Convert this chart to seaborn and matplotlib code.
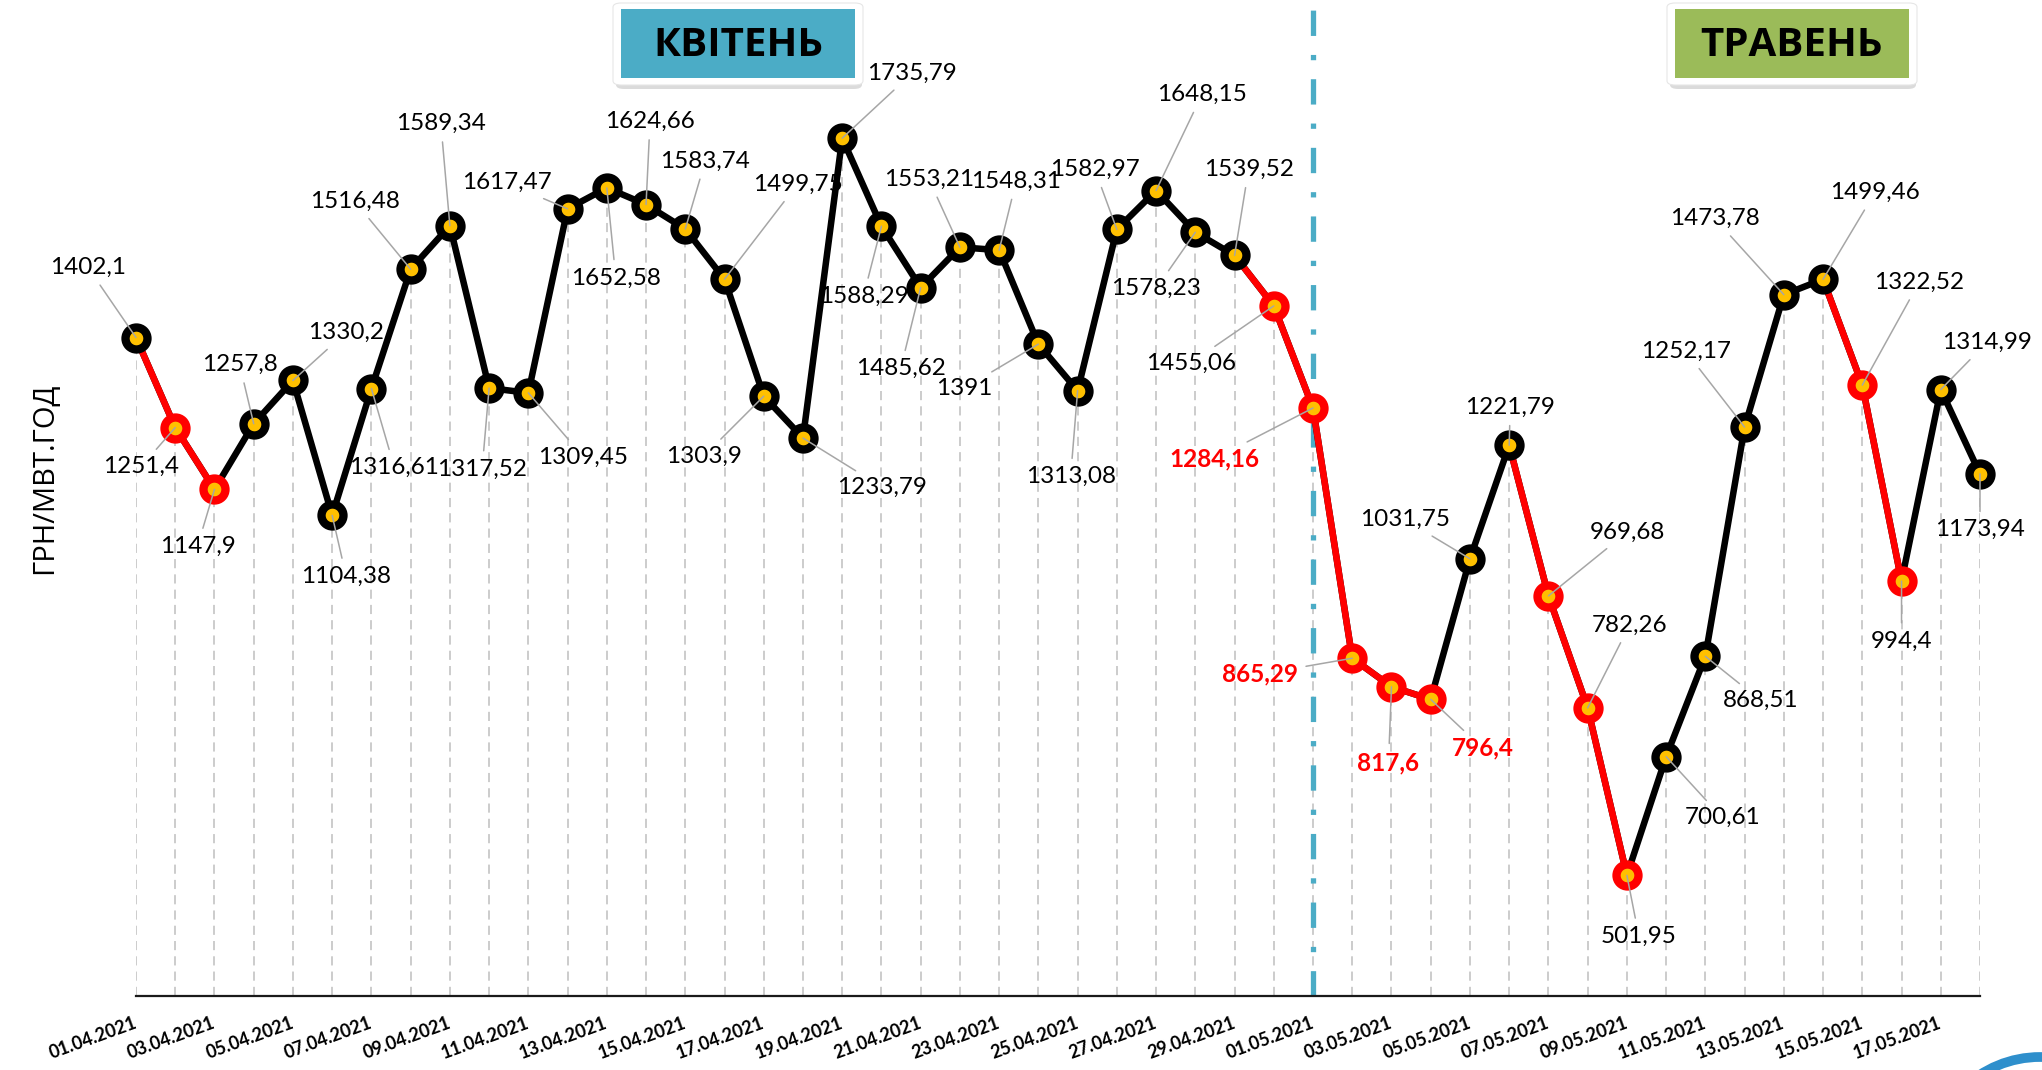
import numpy as np
import pandas as pd

import matplotlib.pyplot as plt
import seaborn as sns
from matplotlib.patches import Rectangle, FancyBboxPatch, Ellipse

# data
dates = pd.date_range('2021-04-01', '2021-05-18', freq='D')
prices = [1402.1, 1251.4, 1147.9, 1257.8, 1330.2, 1104.38, 1316.61, 1516.48, 1589.34, 1317.52,
          1309.45, 1617.47, 1652.58, 1624.66, 1583.74, 1499.75, 1303.9, 1233.79, 1735.79, 1588.29,
          1485.62, 1553.21, 1548.31, 1391, 1313.08, 1582.97, 1648.15, 1578.23, 1539.52, 1455.06,
          1284.16, 865.29, 817.6, 796.4, 1031.75, 1221.79, 969.68, 782.26, 501.95, 700.61,
          868.51, 1252.17, 1473.78, 1499.46, 1322.52, 994.4, 1314.99, 1173.94]
# days reached by a red (falling) segment
red_days = ['02.04', '03.04', '30.04', '01.05', '02.05', '03.05', '04.05',
            '07.05', '08.05', '09.05', '15.05', '16.05']
# days with bold red value labels
bold_days = ['01.05', '02.05', '03.05', '04.05']
month_names = ['КВІТЕНЬ', 'ТРАВЕНЬ']
month_start = '01.05'
y_title = 'ГРН/МВТ.ГОД'

# label offsets from point, pixels (x right, y up)
label_dx = [-48, -34, -17, -14, 53, 14, 23, -56, -9, -7,
            55, -61, 9, 4, 20, 73, -60, 79, 70, -18,
            -20, -31, 17, -74, -7, -22, 46, -39, 14, -83,
            -99, -92, -3, 52, -65, 1, 79, 42, 12, 56,
            55, -59, -69, 52, 57, 0, 46, 0]
label_dy = [70, -39, -57, 59, 48, -61, -79, 68, 102, -81,
            -64, 26, -90, 83, 68, 95, -60, -49, 65, -70,
            -81, 68, 69, -44, -86, 60, 96, -56, 86, -57,
            -51, -16, -76, -49, 39, 38, 64, 83, -61, -61,
            -44, 76, 76, 87, 103, -60, 47, -56]

W, H = 2042, 1070
BLACK = '#000000'
RED = '#FF0000'
GOLD = '#FFC000'

day_str = [d.strftime('%d.%m') for d in dates]
df = pd.DataFrame({'x': np.arange(len(dates)), 'price': prices, 'day': day_str})
df['red'] = df['day'].isin(red_days)
df['bold'] = df['day'].isin(bold_days)

sns.set_theme(style='white')
plt.rcParams['font.family'] = ['Lato', 'Open Sans', 'DejaVu Sans']

fig = plt.figure(figsize=(W / 100, H / 100), dpi=100)
ax = fig.add_axes([136 / W, (H - 996) / H, (1980 - 136) / W, 996 / H])
ax.set_xlim(0, len(dates) - 1)
ax.set_ylim(300, 1967)

# drop lines
ax.vlines(df['x'], 300, df['price'], colors='#BFBFBF', linestyles=(0, (6, 4)), lw=1.1, zorder=1)

# month divider
xm = df.loc[df['day'] == month_start, 'x'].iloc[0]
ax.axvline(xm, color='#4BACC6', lw=3.8, linestyle=(0, (4.8, 3.6, 1.0, 3.6)), zorder=2)

# line, black base then red segments
sns.lineplot(data=df, x='x', y='price', color=BLACK, lw=4.7, ax=ax, zorder=3, clip_on=False)
for i in range(1, len(df)):
    if df.loc[i, 'red']:
        ax.plot(df['x'].iloc[i - 1:i + 1], df['price'].iloc[i - 1:i + 1],
                color=RED, lw=4.7, solid_capstyle='round', zorder=3.5, clip_on=False)

# markers
for flag, ec in [(False, BLACK), (True, RED)]:
    sub = df[df['red'] == flag]
    sns.scatterplot(data=sub, x='x', y='price', s=250, color=GOLD, edgecolor=ec,
                    linewidth=6, ax=ax, zorder=4, legend=False, clip_on=False)

# value labels
for i, row in df.iterrows():
    txt = f"{row['price']:g}".replace('.', ',')
    ax.annotate(txt, xy=(row['x'], row['price']), xytext=(label_dx[i], label_dy[i]),
                textcoords='offset pixels', ha='center', va='center',
                fontsize=17.5, color=RED if row['bold'] else BLACK,
                fontweight='bold' if row['bold'] else 'normal',
                bbox=dict(boxstyle='square,pad=0.15', fc='none', ec='none'),
                arrowprops=dict(arrowstyle='-', color='#A6A6A6', lw=1.1, shrinkA=3, shrinkB=0),
                zorder=5)

# axes
for s in ['top', 'left', 'right']:
    ax.spines[s].set_visible(False)
ax.spines['bottom'].set_color('#1a1a1a')
ax.spines['bottom'].set_linewidth(1.6)
ax.set_yticks([])
ax.set_xlabel('')
ax.set_ylabel('')
ticks = df['x'].iloc[::2]
ax.set_xticks(ticks)
ax.set_xticklabels([d.strftime('%d.%m.%Y') for d in dates[::2]], rotation=20,
                   ha='right', va='center', rotation_mode='anchor',
                   fontsize=13, fontweight='bold', color=BLACK)
ax.tick_params(axis='x', length=0, pad=19)

fig.text(45 / W, 1 - 478 / H, y_title, rotation=90, ha='center', va='center',
         fontsize=21, color=BLACK, family=['Open Sans', 'DejaVu Sans'])


# month boxes
def month_box(x0, x1, fill, text):
    fx = lambda v: v / W
    fy = lambda v: 1 - v / H
    shadow = FancyBboxPatch((fx(x0 - 5), fy(89)), fx(x1 - x0 + 12), (84) / H,
                            boxstyle='round,pad=0,rounding_size=0.004', transform=fig.transFigure,
                            fc='#9a9a9a', ec='none', alpha=0.35, zorder=9)
    frame = FancyBboxPatch((fx(x0 - 8), fy(85)), fx(x1 - x0 + 16), (82) / H,
                           boxstyle='round,pad=0,rounding_size=0.004', transform=fig.transFigure,
                           fc='white', ec='#e6e6e6', lw=0.8, zorder=10)
    box = Rectangle((fx(x0), fy(78)), fx(x1 - x0), 69 / H, transform=fig.transFigure,
                    fc=fill, ec='none', zorder=11)
    for p in (shadow, frame, box):
        fig.add_artist(p)
    fig.text(fx((x0 + x1) / 2), fy(45), text, ha='center', va='center', fontsize=29,
             fontweight='bold', color=BLACK, family=['Open Sans', 'DejaVu Sans'], zorder=12)


month_box(621, 855, '#4BACC6', month_names[0])
month_box(1675, 1909, '#9BBB59', month_names[1])

# logo corner
fig.add_artist(Ellipse((2040 / W, 1 - 1167 / H), 220 / W, 220 / H, transform=fig.transFigure,
                       fill=False, ec='#2E8FCC', lw=7, zorder=12))

fig.savefig('out.png', dpi=100)
